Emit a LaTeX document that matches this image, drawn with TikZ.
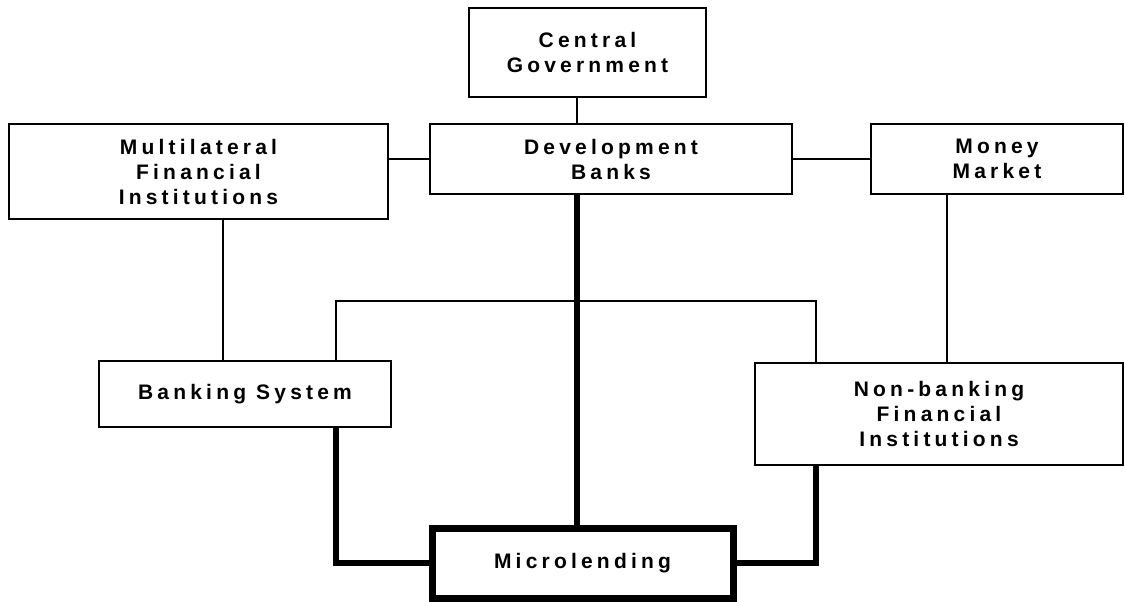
\documentclass[tikz,border=0pt]{standalone}
\usepackage{fontspec}
\setmainfont{Liberation Sans}[LetterSpace=20]
\usetikzlibrary{calc}

\begin{document}
\begin{tikzpicture}[x=0.5pt, y=-0.5pt,
    box/.style={draw, line width=1.2pt, inner sep=0pt, align=center,
        font=\bfseries\fontsize{10.5}{12.5}\selectfont},
    link/.style={line width=1pt},
    trunk/.style={line width=3pt}]
    \useasboundingbox (0,0) rectangle (1125,601);

    % Top row
    \node[box, minimum width=118.5pt, minimum height=44.5pt] (cg) at (587.5,52.5) {Central\\Government};
    \node[box, minimum width=181pt, minimum height=35pt] (db) at (611,159) {Development\\Banks};
    \node[box, minimum width=189.5pt, minimum height=47.5pt] (mfi) at (198.5,171.5) {Multilateral\\Financial\\Institutions};
    \node[box, minimum width=126pt, minimum height=35pt] (mm) at (997,159) {Money\\Market};

    % Middle row
    \node[box, minimum width=146pt, minimum height=33pt] (bs) at (245,394) {Banking System};
    \node[box, minimum width=184pt, minimum height=51pt] (nb) at (939,414) {Non-banking\\Financial\\Institutions};

    % Bottom
    \node[box, line width=3.5pt, minimum width=150.5pt, minimum height=35pt] (ml) at (582.5,563) {Microlending};

    % Junction points
    \coordinate (bus) at (577,301);
    \coordinate (busL) at (336,301);
    \coordinate (busR) at (816,301);
    \coordinate (dropL) at (223,0);
    \coordinate (dropR) at (947,0);

    % Thin links
    \draw[link] (bus |- cg.south) -- (bus |- db.north);
    \draw[link] (db.west -| mfi.east) -- (db.west);
    \draw[link] (db.east) -- (mm.west);
    \draw[link] (dropL |- mfi.south) -- (dropL |- bs.north);
    \draw[link] (dropR |- mm.south) -- (dropR |- nb.north);
    \draw[link] (busL |- bs.north) -- (busL) -- (busR) -- (busR |- nb.north);

    % Thick links to Microlending
    \draw[trunk] (bus |- db.south) -- (bus |- ml.north);
    \draw[trunk] (busL |- bs.south) |- (ml.west);
    \draw[trunk] (busR |- nb.south) |- (ml.east);
\end{tikzpicture}
\end{document}
